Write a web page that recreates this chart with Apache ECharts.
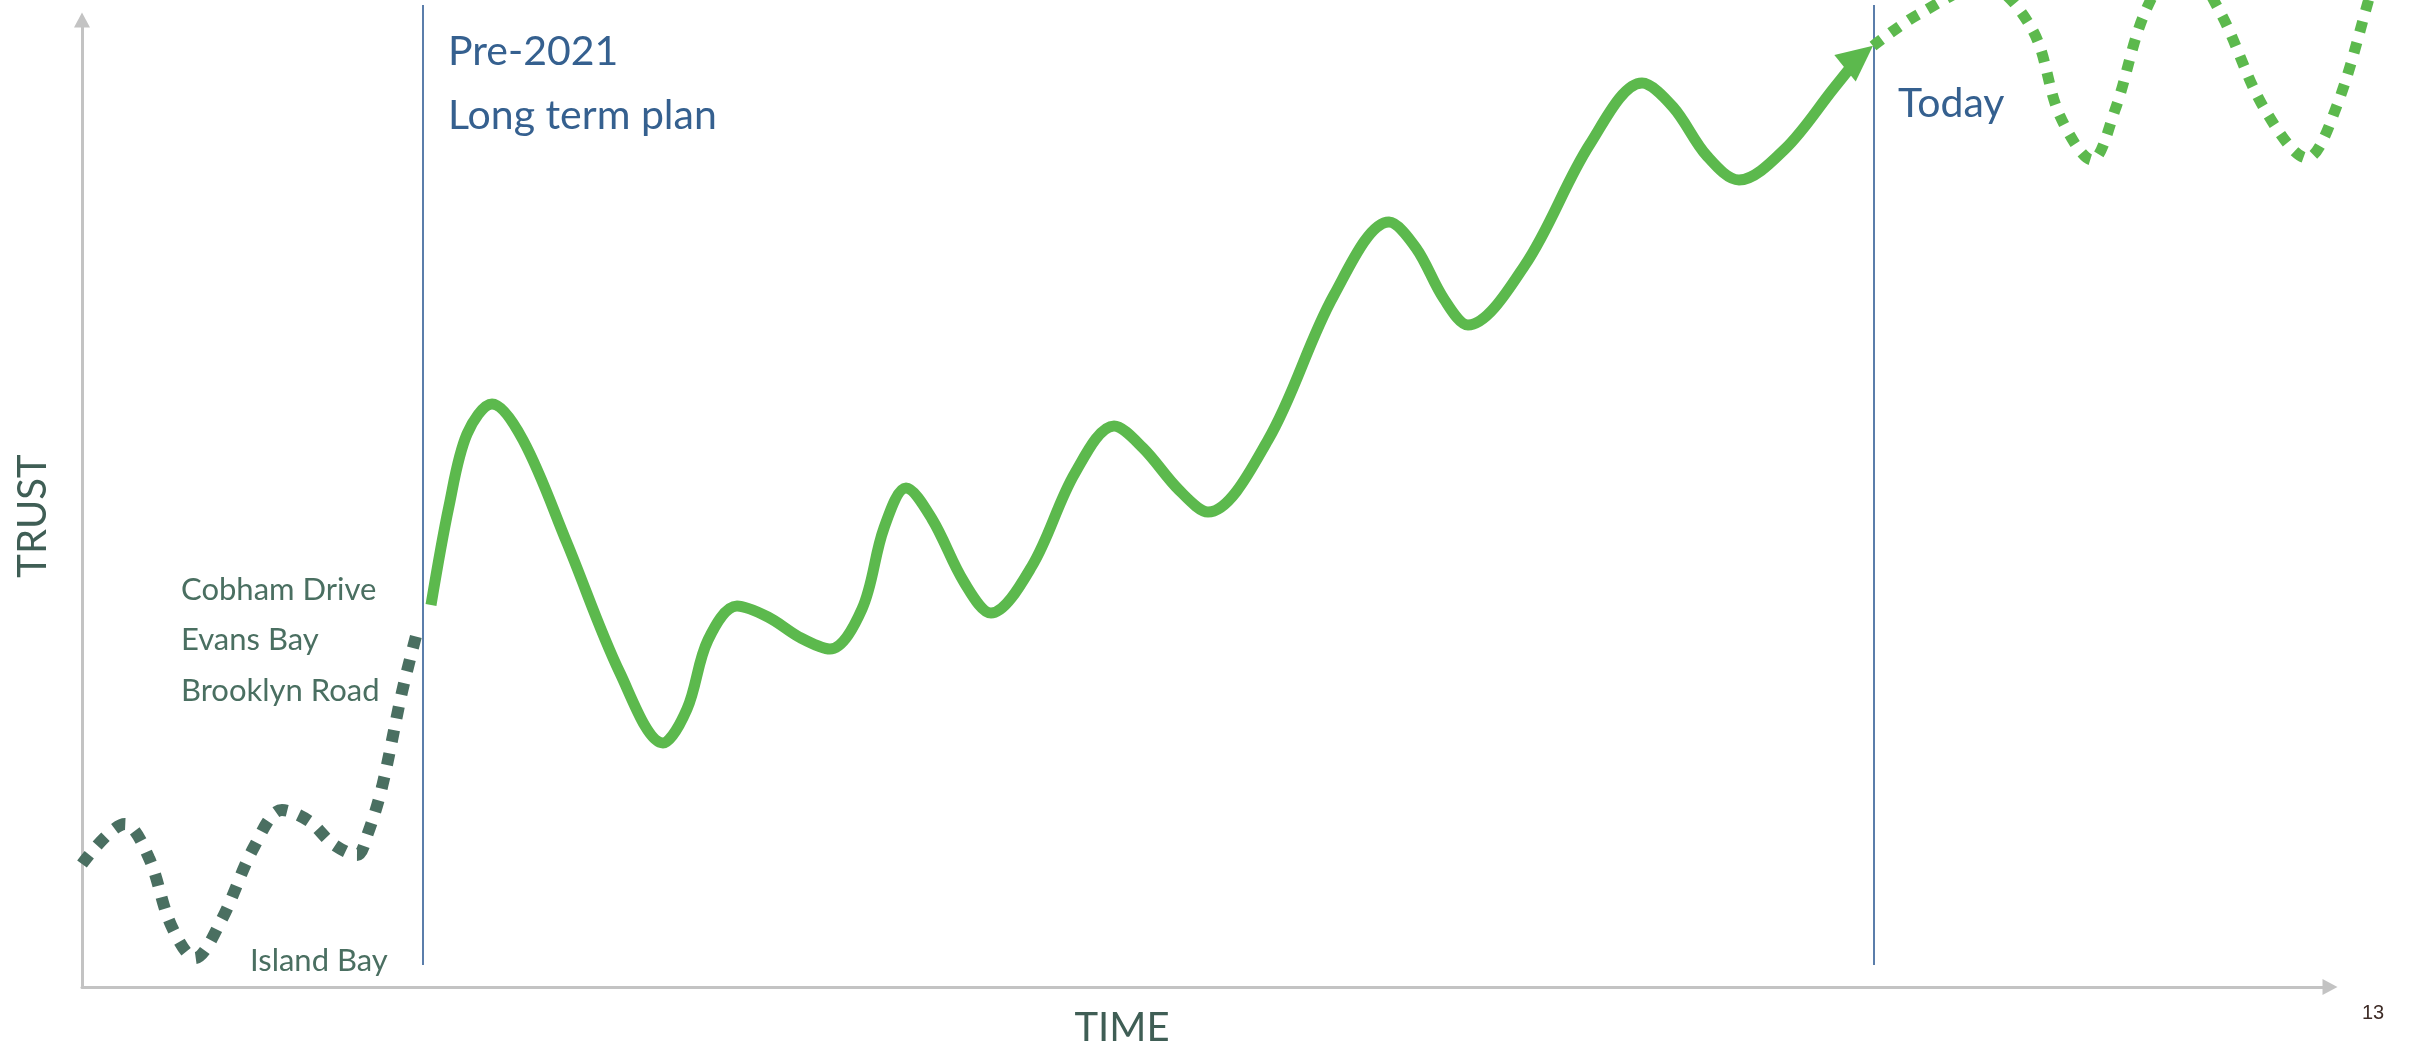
<!DOCTYPE html>
<html>
<head>
<meta charset="utf-8">
<script src="https://cdn.jsdelivr.net/npm/echarts@6/dist/echarts.min.js"></script>
<style>
html,body{margin:0;padding:0;background:#ffffff;}
#c{width:2423px;height:1043px;}
</style>
</head>
<body>
<div id="c"></div>
<script>
// ---- data (x = time, y = trust, origin at the axes corner) ----
const islandBayTrail = [
  [0,123],[43,163],[67,129],[89,62],[113,29],[139,66],[172,140],[200,177],[227,166],
  [251,143],[275,132],[286,154],[300,200],[320,295],[334,351]
];
const longTermPlan = [
  [349,382],[367,481],[385,553],[410,583],[441,547],[485,444],[538,314],[581,244],[605,278],
  [626,347],[655,381],[686,370],[719,349],[748,338],[780,378],[802,459],[824,499],
  [850,468],[882,405],[909,374],[950,421],[993,514],[1032,561],[1061,539],[1097,497],
  [1126,475],[1186,547],[1252,692],[1307,765],[1334,739],[1362,688],[1386,662],
  [1443,722],[1508,843],[1560,904],[1591,880],[1625,831],[1657,807],[1703,838],
  [1752,899],[1777,930]
];
const arrowHead = [[1777,930]];
const futureTrail = [
  [1791,941],[1837,973],[1903,1002],[1950,958],[1978,871],[2010,827],[2033,877],
  [2064,977],[2100,1027],[2137,977],[2182,879],[2225,829],[2254,879],[2286,985],[2296,1027]
];
const milestoneX = [341, 1792];
const milestoneSpan = [22, 982];
const phaseLabels = ['Pre-2021', 'Long term plan', 'Today'];
const projectLabels = ['Cobham Drive', 'Evans Bay', 'Brooklyn Road', 'Island Bay'];
const axisTitles = ['TIME', 'TRUST'];
const pageNumber = '13';

// ---- chart ----
const chart = echarts.init(document.getElementById('c'), null, {renderer: 'canvas'});
const GREEN = '#5CB94D';
const DARK = '#4A6F61';
const BLUE = '#35608F';
const FONT = 'Lato, "Open Sans", sans-serif';
const SMOOTH = 0.34;

const hiddenAxis = {show: false, axisLine: {show: false}, axisTick: {show: false}, axisLabel: {show: false}, splitLine: {show: false}};

const milestoneSeries = milestoneX.map(x => ({
  type: 'line', silent: true, clip: false, symbol: 'none', z: 1,
  xAxisIndex: 1, yAxisIndex: 1,
  lineStyle: {color: '#5B7EAB', width: 2},
  data: [[x, milestoneSpan[0]], [x, milestoneSpan[1]]]
}));

const option = {
  animation: false,
  backgroundColor: '#ffffff',
  grid: [
    {left: 82, top: 20, right: 93, bottom: 56, containLabel: false},
    // same scale (1 unit = 1 px, same origin), larger frame so nothing is cut
    {left: 82, top: 0, right: 0, bottom: 56, containLabel: false}
  ],
  xAxis: [
    {
      type: 'value', min: 0, max: 2248, gridIndex: 0,
      axisLine: {show: true, symbol: ['none', 'triangle'], symbolSize: [16, 15],
        lineStyle: {color: '#C3C3C3', width: 3}},
      axisTick: {show: false}, axisLabel: {show: false}, splitLine: {show: false}
    },
    Object.assign({type: 'value', min: 0, max: 2341, gridIndex: 1}, hiddenAxis)
  ],
  yAxis: [
    {
      type: 'value', min: 0, max: 967, gridIndex: 0,
      axisLine: {show: true, symbol: ['none', 'triangle'], symbolSize: [16, 15],
        lineStyle: {color: '#C3C3C3', width: 3}},
      axisTick: {show: false}, axisLabel: {show: false}, splitLine: {show: false}
    },
    Object.assign({type: 'value', min: 0, max: 987, gridIndex: 1}, hiddenAxis)
  ],
  series: [
    ...milestoneSeries,
    {
      type: 'line', name: 'Island Bay trail', data: islandBayTrail, smooth: SMOOTH,
      xAxisIndex: 1, yAxisIndex: 1,
      symbol: 'none', clip: false, z: 3,
      lineStyle: {color: DARK, width: 12, type: [12, 12], cap: 'butt'}
    },
    {
      type: 'line', name: 'Future', data: futureTrail, smooth: SMOOTH,
      xAxisIndex: 1, yAxisIndex: 1,
      symbol: 'none', clip: false, z: 3,
      lineStyle: {color: GREEN, width: 11, type: [11, 11], cap: 'butt'}
    },
    {
      type: 'line', name: 'Long term plan', data: longTermPlan, smooth: SMOOTH,
      xAxisIndex: 1, yAxisIndex: 1,
      symbol: 'none', clip: false, z: 4,
      lineStyle: {color: GREEN, width: 11, cap: 'butt'}
    },
    {
      type: 'scatter', name: 'arrow', data: arrowHead, clip: false, z: 5,
      xAxisIndex: 1, yAxisIndex: 1,
      symbol: 'triangle', symbolSize: [34, 36], symbolRotate: -51,
      itemStyle: {color: GREEN, opacity: 1}, silent: true
    }
  ],
  graphic: [
    {type: 'text', x: 448, y: 52, style: {text: phaseLabels[0], font: '41px ' + FONT, fill: BLUE, align: 'left', verticalAlign: 'middle'}},
    {type: 'text', x: 448, y: 116, style: {text: phaseLabels[1], font: '41px ' + FONT, fill: BLUE, align: 'left', verticalAlign: 'middle'}},
    {type: 'text', x: 1898, y: 104, style: {text: phaseLabels[2], font: '41px ' + FONT, fill: BLUE, align: 'left', verticalAlign: 'middle'}},
    {type: 'text', x: 181, y: 590, style: {text: projectLabels[0], font: '31px ' + FONT, fill: DARK, align: 'left', verticalAlign: 'middle'}},
    {type: 'text', x: 181, y: 640, style: {text: projectLabels[1], font: '31px ' + FONT, fill: DARK, align: 'left', verticalAlign: 'middle'}},
    {type: 'text', x: 181, y: 691, style: {text: projectLabels[2], font: '31px ' + FONT, fill: DARK, align: 'left', verticalAlign: 'middle'}},
    {type: 'text', x: 250, y: 961, style: {text: projectLabels[3], font: '31px ' + FONT, fill: DARK, align: 'left', verticalAlign: 'middle'}},
    {type: 'text', x: 1122, y: 1028, style: {text: axisTitles[0], font: '40px ' + FONT, fill: '#3F5E55', align: 'center', verticalAlign: 'middle'}},
    {type: 'text', x: 33, y: 516, rotation: Math.PI / 2, style: {text: axisTitles[1], font: '40px ' + FONT, fill: '#3F5E55', align: 'center', verticalAlign: 'middle'}},
    {type: 'text', x: 2373, y: 1013, style: {text: pageNumber, font: '20px "Liberation Sans", Arial, sans-serif', fill: '#3E2C27', align: 'center', verticalAlign: 'middle'}}
  ]
};
chart.setOption(option);
</script>
</body>
</html>
